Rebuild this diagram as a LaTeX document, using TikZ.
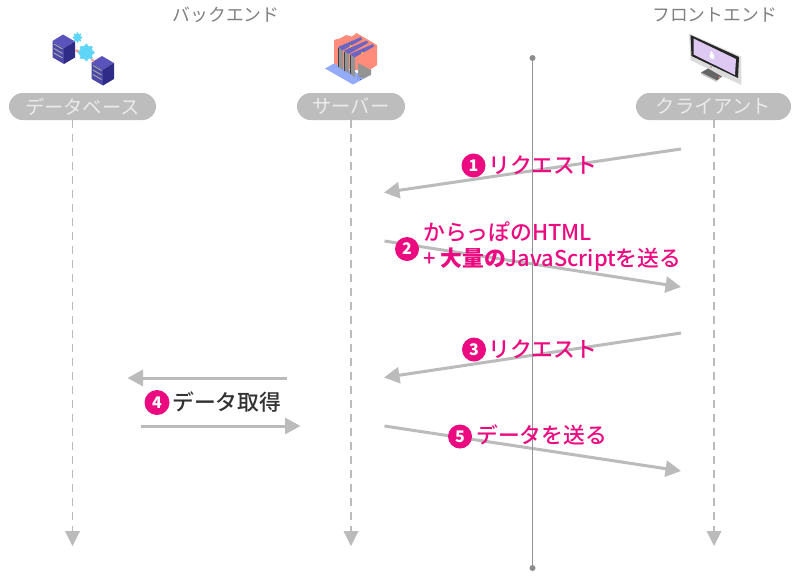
\documentclass[tikz,border=0pt]{standalone}
\usepackage{fontspec}
\setmainfont{Noto Sans CJK JP Medium}
\newfontfamily\heavyfont{Noto Sans CJK JP}
\usetikzlibrary{arrows.meta}
\definecolor{pinkc}{HTML}{EC0A80}
\definecolor{arrowc}{HTML}{BBBBBB}
\definecolor{pillc}{HTML}{BDBDBD}
\definecolor{srvT}{HTML}{5A53BC}
\definecolor{srvL}{HTML}{4A47A8}
\definecolor{srvR}{HTML}{2F2C88}
\definecolor{gearc}{HTML}{5FD6F7}
\definecolor{salmon}{HTML}{FF8C7A}
\definecolor{floorc}{HTML}{94ABFA}
\definecolor{lilac}{HTML}{DEC9F2}
\tikzset{
  flow/.style={draw=arrowc,line width=3pt,-{Triangle[length=15.5pt,width=16pt]},shorten >=0pt},
  life/.style={draw=arrowc,line width=1.8pt,dash pattern=on 8pt off 6pt},
  lifetip/.style={fill=arrowc,draw=none},
  pill/.style={fill=pillc,rounded corners=13.5pt,minimum height=27pt,inner sep=0pt,text=white!92!black,font=\heavyfont\fontsize{19.3}{19}\selectfont},
  head/.style={text=black!50,font=\heavyfont\fontsize{17.8}{18}\selectfont,inner sep=0pt},
  num/.style={circle,fill=pinkc,text=white,minimum size=24pt,inner sep=0pt,font=\heavyfont\bfseries\fontsize{16}{16}\selectfont},
  msg/.style={text=pinkc,anchor=west,inner sep=0pt,font=\fontsize{21.8}{24}\selectfont},
  dot/.style={circle,fill=black!45,minimum size=6pt,inner sep=0pt},
}
\begin{document}
\begin{tikzpicture}[x=1pt,y=-1pt]
\useasboundingbox (0,0) rectangle (800,582);
% header labels
\node[head] (hback) at (226,15) {バックエンド};
\node[head] (hfront) at (714.5,15) {フロントエンド};
% pills
\node[pill,minimum width=147pt] (db) at (82.5,106.5) {データベース};
\node[pill,minimum width=108pt] (srv) at (351,106.5) {サーバー};
\node[pill,minimum width=155pt] (cli) at (713.5,106.5) {クライアント};
% lifeline ends
\coordinate (dbe) at (72.5,532);
\coordinate (srve) at (351,532);
\coordinate (clie) at (714,532);
\coordinate (dbt) at (72.5,120);
\coordinate (srvt) at (351,120);
\coordinate (clit) at (714,120);
\draw[life] (dbt) -- (dbe);
\draw[life] (srvt) -- (srve);
\draw[life] (clit) -- (clie);
\fill[lifetip] (65,531) -- (80,531) -- (72.5,546) -- cycle;
\fill[lifetip] (343.5,531) -- (358.5,531) -- (351,546) -- cycle;
\fill[lifetip] (706.5,531) -- (721.5,531) -- (714,546) -- cycle;
% flows
\coordinate (a1s) at (681,149); \coordinate (a1e) at (384,192.5);
\coordinate (a2s) at (384.5,241); \coordinate (a2e) at (681,287);
\coordinate (a3s) at (681,333); \coordinate (a3e) at (384,377.5);
\coordinate (a4s) at (287,378); \coordinate (a4e) at (127.5,378);
\coordinate (a6s) at (141,426); \coordinate (a6e) at (300.5,426);
\coordinate (a5s) at (384.5,426); \coordinate (a5e) at (681,471);
\draw[flow] (a1s) -- (a1e);
\draw[flow] (a2s) -- (a2e);
\draw[flow] (a3s) -- (a3e);
\draw[flow] (a4s) -- (a4e);
\draw[flow] (a6s) -- (a6e);
\draw[flow] (a5s) -- (a5e);
% centre divider
\node[dot] (ctop) at (532.5,58) {};
\node[dot] (cbot) at (532.5,568) {};
\draw[black!42,line width=1.5pt] (ctop) -- (cbot);
% messages
\node[num] (n1) at (473.5,165.5) {1};
\node[msg] (t1) at (488,165) {リクエスト};
\node[num] (n2) at (407,249) {2};
\node[msg] (t2a) at (423,232) {からっぽのHTML};
\node[msg] (t2b) at (423,260) {+ {\heavyfont\bfseries 大量の}JavaScriptを送る};
\node[num] (n3) at (474,349.5) {3};
\node[msg] (t3) at (488,349.5) {リクエスト};
\node[num,minimum size=25pt] (n4) at (157,402.5) {4};
\node[msg,text=black!80] (t4) at (172,402) {データ取得};
\node[num] (n5) at (460,436.5) {5};
\node[msg] (t5) at (476,435) {データを送る};
% database icon
\foreach \dx/\dy in {0/0,39/21.5}{
 \begin{scope}[shift={(\dx,\dy)}]
  \fill[srvT] (63,34.5) -- (75,41.5) -- (64,48) -- (52.5,41) -- cycle;
  \fill[srvL] (52.5,41) -- (64,48) -- (64,64) -- (52.5,57.3) -- cycle;
  \fill[srvR] (64,48) -- (75,41.5) -- (75,57.5) -- (64,64) -- cycle;
  \foreach \k in {0,4.5,9}{
   \draw[black!35,line width=1pt] (54,{44+\k}) -- (62.5,{49+\k});
  }
 \end{scope}}
\draw[salmon!80!white,line width=2.5pt] (75.5,50) -- (81,53);
\draw[salmon!80!white,line width=2pt] (91,59) -- (94,61);
\fill[gearc] (77.5,37.5) circle (3.7pt);
\fill[gearc] (86,52.5) circle (7pt);
\foreach \a in {0,45,...,315}{
 \fill[gearc] ({77.5+3.8*cos(\a)},{37.5+4.2*sin(\a)}) circle (1.2pt);
 \fill[gearc] ({86.3+6.8*cos(\a)},{52.5+7.2*sin(\a)}) circle (1.8pt);
}
% server icon
\fill[salmon] (334,40) -- (341,38) -- (346,35) -- (352,36.5) -- (356.5,33) -- (377,45) -- (377,65) -- (367,72) -- (345,68) -- (334,65) -- cycle;
\fill[floorc] (325,68.5) -- (334,63.5) -- (367,77) -- (353,84.5) -- cycle;
\fill[black!42] (358,63) -- (371,70) -- (371,75) -- (363,78.5) -- (358,75.5) -- cycle;
\foreach \dx/\dy in {0/0,6/3.5,12/7}{
 \begin{scope}[shift={(\dx,\dy)}]
  \fill[black!42] (338,48) -- (343,50) -- (343,70) -- (338,67) -- cycle;
  \fill[srvT!90!white] (338,47) -- (361,37) -- (362,39.5) -- (342.5,50.5) -- cycle;
  \draw[black!75,line width=.7pt] (338,48) -- (338,67);
 \end{scope}}
\fill[yellow!80!orange] (350.5,46) circle (1pt);
\fill[yellow!80!orange] (362,53) circle (1pt);
\foreach \p in {(358,76.5),(360,77.5),(362,76),(358,79),(360.5,79.5)}{\fill[srvR] \p circle (.45pt);}
% monitor icon
\fill[black!14] (689,33.5) -- (741,56.5) -- (741.5,85) -- (722,76) -- (690.5,60) -- cycle;
\fill[black!85] (690.5,35) -- (739,57) -- (738,78) -- (691.5,56) -- cycle;
\fill[lilac] (693.5,38.5) -- (736,59) -- (735,75) -- (693.5,54.5) -- cycle;
\fill[white] (711.5,52.5) circle (1.3pt);
\fill[white] (709.5,55.5) -- (711,52) -- (714,55) -- (714,59) -- (710.5,58.5) -- cycle;
\fill[black!60] (708,68.5) -- (722,76.5) -- (717,80.5) -- (701,72.5) -- cycle;
\fill[black!25] (701,72.5) -- (717,80.5) -- (717,82) -- (701,74) -- cycle;
\fill[salmon] (719.5,77.5) circle (1pt);
\fill[red!70!black] (711,67) circle (.7pt);
\end{tikzpicture}
\end{document}
